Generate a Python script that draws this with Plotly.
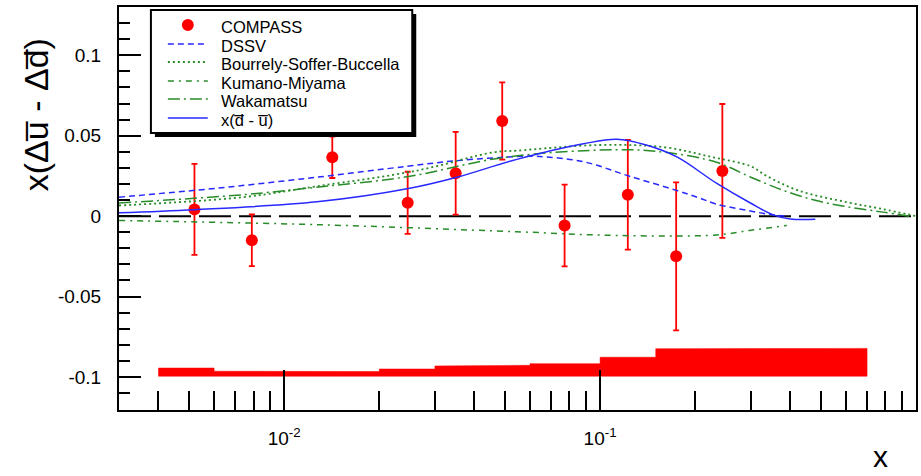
import numpy as np
import plotly.graph_objects as go

# ---------------- data ----------------
# COMPASS points
x_pts = [0.0052, 0.0079, 0.0142, 0.0246, 0.0349, 0.0490, 0.0772, 0.1224, 0.1741, 0.2438]
y_pts = [0.0042, -0.0150, 0.0366, 0.0083, 0.0267, 0.0591, -0.0058, 0.0133, -0.0250, 0.0281]
err_pts = [0.0283, 0.0161, 0.0129, 0.0193, 0.0257, 0.0240, 0.0254, 0.0341, 0.0460, 0.0416]

# systematic uncertainty band (bin edges and top of band)
sys_edges = [0.004, 0.006, 0.01, 0.02, 0.03, 0.04, 0.06, 0.1, 0.15, 0.2, 0.3, 0.7]
sys_top = [-0.0944, -0.0964, -0.0966, -0.0950, -0.0931, -0.0927, -0.0917,
           -0.0877, -0.0824, -0.0822, -0.0822]
sys_base = -0.0995

# DSSV
x_dssv = [0.003, 0.00614, 0.0127, 0.0245, 0.0352, 0.0545, 0.063, 0.0887, 0.124,
          0.1745, 0.2047, 0.2335, 0.2966, 0.353, 0.39]
y_dssv = [0.0118, 0.0174, 0.0242, 0.0310, 0.0345, 0.0370, 0.0372, 0.0338, 0.0248,
          0.0160, 0.0115, 0.0075, 0.0033, 0.0008, 0.0]

# Bourrely-Soffer-Buccella
x_bsb = [0.003, 0.0074, 0.0127, 0.0263, 0.046, 0.0545, 0.099, 0.16, 0.225, 0.30,
         0.333, 0.4235, 0.61, 0.78, 1.0]
y_bsb = [0.0066, 0.0118, 0.0186, 0.0283, 0.0397, 0.0407, 0.0442, 0.0428, 0.0368,
         0.0310, 0.0255, 0.0160, 0.0085, 0.0045, 0.0]

# Kumano-Miyama
x_km = [0.003, 0.0127, 0.0545, 0.113, 0.2335, 0.297, 0.39]
y_km = [-0.0027, -0.0053, -0.0097, -0.0120, -0.0117, -0.0089, -0.0058]

# Wakamatsu
x_wak = [0.003, 0.0074, 0.0127, 0.0245, 0.05, 0.113, 0.16, 0.2335, 0.30, 0.38,
         0.483, 0.614, 0.787, 0.95]
y_wak = [0.0082, 0.0133, 0.0180, 0.0245, 0.0366, 0.0413, 0.0397, 0.0335, 0.0242,
         0.0160, 0.0097, 0.0056, 0.0025, 0.0]

# x(dbar - ubar)
x_du = [0.003, 0.0052, 0.0127, 0.0245, 0.0352, 0.0545, 0.0887, 0.113, 0.14, 0.175,
        0.2335, 0.30, 0.353, 0.40, 0.48]
y_du = [0.0021, 0.0040, 0.0089, 0.0170, 0.0242, 0.0353, 0.0450, 0.0478, 0.0442,
        0.0368, 0.0205, 0.0080, 0.0008, -0.0018, -0.0020]

# axis ticks
y_tickvals = [0.1, 0.05, 0.0, -0.05, -0.1]
y_ticktext = ["0.1", "0.05", "0", "-0.05", "-0.1"]
x_tickvals = [0.01, 0.1, 1.0]
x_ticktext = ["10<sup>-2</sup>", "10<sup>-1</sup>", "1"]

# legend labels
legend_labels = ["COMPASS", "DSSV", "Bourrely-Soffer-Buccella", "Kumano-Miyama",
                 "Wakamatsu", "x(d\u0305 - u\u0305)"]

# ---------------- figure ----------------
FONT = "Liberation Sans, Arial, sans-serif"
GREEN = "rgb(40,140,40)"
BLUE = "rgb(40,40,255)"
W, H = 921, 476
ML, MR, MT, MB = 119, 3, 7, 66
PW, PH = W - ML - MR, H - MT - MB


def px(xp):
    return (xp - ML) / PW


def py(yp):
    return 1 - (yp - MT) / PH


styles = {
    "DSSV": dict(color=BLUE, width=1.5, dash="6px,4px"),
    "BSB": dict(color=GREEN, width=1.8, dash="2px,3px"),
    "KM": dict(color=GREEN, width=1.5, dash="6px,5px,2px,5px"),
    "WAK": dict(color=GREEN, width=1.5, dash="12px,4px,2px,4px"),
    "DU": dict(color=BLUE, width=1.5),
}

fig = go.Figure()

# systematic band polygon (step shape)
bx, by = [], []
for i in range(len(sys_top)):
    bx += [sys_edges[i], sys_edges[i + 1]]
    by += [sys_top[i], sys_top[i]]
bx += [sys_edges[-1], sys_edges[0], sys_edges[0]]
by += [sys_base, sys_base, sys_top[0]]
fig.add_trace(go.Scatter(x=bx, y=by, mode="lines", fill="toself",
                         fillcolor="red", line=dict(color="red", width=0.5),
                         showlegend=False, hoverinfo="skip"))

fig.add_trace(go.Scatter(
    x=x_pts, y=y_pts, mode="markers", name=legend_labels[0],
    marker=dict(color="red", size=12, symbol="circle"),
    error_y=dict(type="data", array=err_pts, color="red", thickness=1.8, width=3)))

for xs, ys, key, name in [(x_dssv, y_dssv, "DSSV", legend_labels[1]),
                          (x_bsb, y_bsb, "BSB", legend_labels[2]),
                          (x_km, y_km, "KM", legend_labels[3]),
                          (x_wak, y_wak, "WAK", legend_labels[4]),
                          (x_du, y_du, "DU", legend_labels[5])]:
    fig.add_trace(go.Scatter(x=xs, y=ys, mode="lines", name=name,
                             line=dict(shape="spline", **styles[key])))

# minor ticks on log axis
x_minor = [k * 10.0 ** e for e in (-3, -2, -1) for k in range(2, 10)]
x_minor = [v for v in x_minor if 0.003 <= v < 1]

fig.update_xaxes(
    type="log", range=[np.log10(0.003), 0.0],
    tickvals=x_tickvals, ticktext=x_ticktext,
    ticks="inside", ticklen=40, tickwidth=1.5, tickcolor="black",
    minor=dict(tickvals=x_minor, ticks="inside", ticklen=19, tickwidth=1.5, tickcolor="black"),
    showline=True, linewidth=2, linecolor="black", mirror=True,
    showgrid=False, zeroline=False,
    tickfont=dict(family=FONT, size=19, color="black"),
    ticklabelstandoff=10,
)
fig.update_yaxes(
    range=[-0.1205, 0.1300],
    tickvals=y_tickvals, ticktext=y_ticktext,
    ticks="inside", ticklen=22, tickwidth=1.5, tickcolor="black",
    minor=dict(dtick=0.01, tick0=0, ticks="inside", ticklen=11, tickwidth=1.5, tickcolor="black"),
    showline=True, linewidth=2, linecolor="black", mirror=True,
    showgrid=False, zeroline=False,
    tickfont=dict(family=FONT, size=19, color="black"),
    ticklabelstandoff=12,
)

shapes = []
# dashed zero line
shapes.append(dict(type="line", xref="paper", yref="y", x0=0, x1=1, y0=0, y1=0,
                   line=dict(color="black", width=2, dash="32px,8px"), layer="below"))

# legend box with shadow (ROOT style)
LX0, LX1, LY0, LY1 = 151, 413, 10, 133
shapes.append(dict(type="rect", xref="paper", yref="paper",
                   x0=px(LX0 + 4), x1=px(LX1 + 4), y0=py(LY1 + 4), y1=py(LY0 + 4),
                   fillcolor="black", line=dict(width=0), layer="above"))
shapes.append(dict(type="rect", xref="paper", yref="paper",
                   x0=px(LX0), x1=px(LX1), y0=py(LY1), y1=py(LY0),
                   fillcolor="white", line=dict(color="black", width=2), layer="above"))

row_y = [25, 44, 62, 81, 99, 118]
# marker sample
shapes.append(dict(type="circle", xref="paper", yref="paper",
                   x0=px(182), x1=px(194), y0=py(row_y[0] + 6), y1=py(row_y[0] - 6),
                   fillcolor="red", line=dict(color="red", width=0), layer="above"))
for key, ry in zip(["DSSV", "BSB", "KM", "WAK", "DU"], row_y[1:]):
    shapes.append(dict(type="line", xref="paper", yref="paper",
                       x0=px(168), x1=px(208), y0=py(ry), y1=py(ry),
                       line=styles[key], layer="above"))

annotations = []
for lab, ry in zip(legend_labels, row_y):
    annotations.append(dict(text=lab, xref="paper", yref="paper", x=px(219), y=py(ry + 2),
                            xanchor="left", yanchor="middle", showarrow=False,
                            font=dict(family=FONT, size=16.5, color="black")))

annotations.append(dict(text="x(\u0394u\u0305 - \u0394d\u0305)", xref="paper", yref="paper",
                        x=px(36), y=py(115), textangle=-90, showarrow=False,
                        font=dict(family=FONT, size=34, color="black"),
                        xanchor="center", yanchor="middle"))
annotations.append(dict(text="x", xref="paper", yref="paper", x=px(882), y=py(475),
                        showarrow=False, font=dict(family=FONT, size=30, color="black"),
                        xanchor="center", yanchor="bottom"))

fig.update_layout(
    width=W, height=H,
    margin=dict(l=ML, r=MR, t=MT, b=MB),
    paper_bgcolor="white", plot_bgcolor="white",
    font=dict(family=FONT, color="black"),
    showlegend=False,
    shapes=shapes,
    annotations=annotations,
)

fig.write_html("out.html")
